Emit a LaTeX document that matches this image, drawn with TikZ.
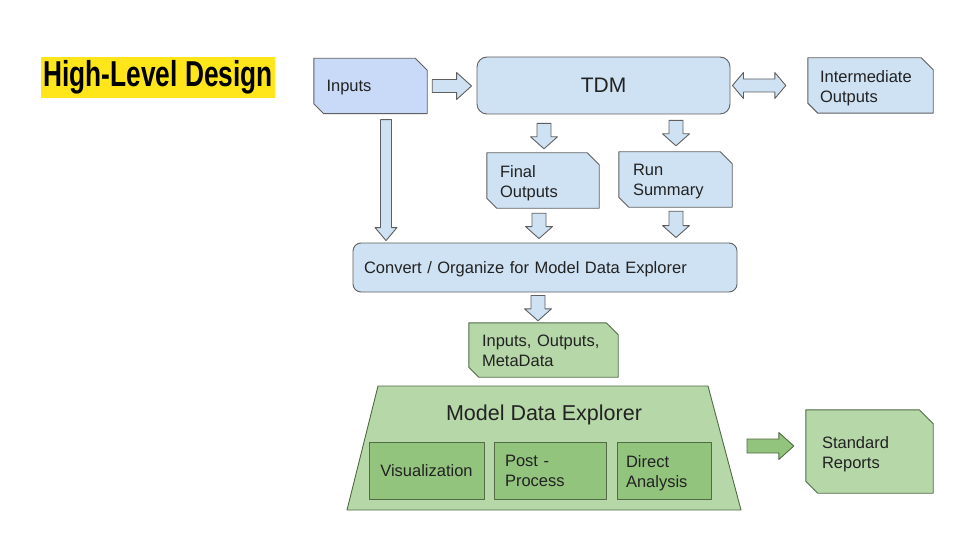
\documentclass[tikz,border=0pt]{standalone}
\usepackage{fontspec}
\setmainfont{Liberation Sans}
\newfontfamily\titlefont{Liberation Sans}[FakeStretch=0.73]
\usetikzlibrary{calc,backgrounds}
\definecolor{inblue}{HTML}{C9DAF8}
\definecolor{lblue}{HTML}{CFE2F3}
\definecolor{lgreen}{HTML}{B6D7A8}
\definecolor{mgreen}{HTML}{93C47D}
\definecolor{bedge}{HTML}{5F5F5F}
\definecolor{gedge}{HTML}{526B45}
\definecolor{ttlyellow}{HTML}{FFE61A}
\definecolor{txt}{HTML}{222222}
% snipped-corner outline around a named node: name, style, top-right cut, bottom-left cut
\newcommand\snipoutline[4]{\path[#2] (#1.north west) -- ([xshift=-#3pt]#1.north east) -- ([yshift=-#3pt]#1.north east) -- (#1.south east) -- ([xshift=#4pt]#1.south west) -- ([yshift=#4pt]#1.south west) -- cycle;}
% block arrow pointing right: style, from, to, shaft half, head half, head length
\newcommand\rightblock[6]{\path[#1] let \p1=(#2), \p2=(#3) in
  (\x1,\y1+#4pt) -- (\x2-#6pt,\y1+#4pt) -- (\x2-#6pt,\y1+#5pt) -- (\x2,\y1) -- (\x2-#6pt,\y1-#5pt) -- (\x2-#6pt,\y1-#4pt) -- (\x1,\y1-#4pt) -- cycle;}
% block arrow pointing down
\newcommand\downblock[6]{\path[#1] let \p1=(#2), \p2=(#3) in
  (\x1-#4pt,\y1) -- (\x1+#4pt,\y1) -- (\x1+#4pt,\y2+#6pt) -- (\x1+#5pt,\y2+#6pt) -- (\x1,\y2) -- (\x1-#5pt,\y2+#6pt) -- (\x1-#4pt,\y2+#6pt) -- cycle;}
% double block arrow (left-right)
\newcommand\doubleblock[6]{\path[#1] let \p1=(#2), \p2=(#3) in
  (\x1,\y1) -- (\x1+#6pt,\y1+#5pt) -- (\x1+#6pt,\y1+#4pt) -- (\x2-#6pt,\y1+#4pt) -- (\x2-#6pt,\y1+#5pt) -- (\x2,\y1) -- (\x2-#6pt,\y1-#5pt) -- (\x2-#6pt,\y1-#4pt) -- (\x1+#6pt,\y1-#4pt) -- (\x1+#6pt,\y1-#5pt) -- cycle;}
\tikzset{
  bluefill/.style={fill=lblue, draw=bedge, line width=0.9pt, line join=round},
  inputfill/.style={fill=inblue, draw=bedge, line width=0.9pt, line join=round},
  greenfill/.style={fill=lgreen, draw=gedge, line width=0.9pt, line join=round},
  darkgreenfill/.style={fill=mgreen, draw=gedge, line width=0.9pt, line join=round},
  textbox/.style={rectangle, align=left, inner ysep=0pt, text=txt, text depth=-0.5pt},
  textboxtwo/.style={rectangle, align=left, inner ysep=0pt, text=txt, text depth=18.5pt},
}
\begin{document}
\begin{tikzpicture}[x=1pt, y=-1pt, font=\fontsize{16.5}{20}\selectfont, text=txt]
\useasboundingbox (0,0) rectangle (960,540);

% title
\node[fill=ttlyellow, inner sep=0pt, minimum width=234pt, minimum height=41pt, anchor=north west, text=black] (title) at (41,57)
  {\titlefont\bfseries\fontsize{36}{36}\selectfont High-Level Design};

% boxes
\node[textbox, minimum width=113pt, minimum height=55pt, inner xsep=12.5pt, text width=88pt] (inputs) at (370.5,86) {Inputs};
\node[rectangle, minimum width=253pt, minimum height=57pt, rounded corners=10pt, bluefill, font=\fontsize{21}{24}\selectfont, text depth=0pt] (tdm) at (603.5,85.5) {TDM};
\node[textboxtwo, minimum width=125pt, minimum height=55pt, inner xsep=12pt, text width=101pt] (interm) at (870.5,85.5) {Intermediate\\Outputs};
\node[textboxtwo, minimum width=112pt, minimum height=55pt, inner xsep=13pt, text width=86pt] (final) at (543,180.5) {Final\\Outputs};
\node[textboxtwo, minimum width=113pt, minimum height=55pt, inner xsep=14pt, text width=85pt] (runsum) at (675.5,179.5) {Run\\Summary};
\node[textbox, minimum width=384pt, minimum height=49pt, inner xsep=11pt, text width=362pt, rounded corners=8pt, bluefill] (convert) at (545,267.5) {Convert / Organize for Model Data Explorer};
\node[textboxtwo, minimum width=149pt, minimum height=54pt, inner xsep=13pt, text width=123pt] (iom) at (543.5,350) {Inputs, Outputs,\\MetaData};

% model data explorer trapezoid
\path[greenfill] (378,386) coordinate (mdetl) -- (708,386) coordinate (mdetr) -- (741,510) coordinate (mdebr) -- (347,510) coordinate (mdebl) -- cycle;
\node[text=txt, font=\fontsize{21.5}{24}\selectfont] (mde) at (544,415) {Model Data Explorer};
\node[rectangle, darkgreenfill, minimum width=115pt, minimum height=57pt, inner sep=0pt, text depth=0pt] (vis) at (426.5,470.5) {Visualization};
\node[textboxtwo, darkgreenfill, minimum width=112pt, minimum height=57pt, inner xsep=11pt, text width=90pt] (post) at (550,470.5) {Post -\\Process};
\node[textboxtwo, darkgreenfill, minimum width=94pt, minimum height=57pt, inner xsep=9pt, text width=76pt] (direct) at (664,470.5) {Direct\\Analysis};
\node[textboxtwo, minimum width=127pt, minimum height=83pt, inner xsep=16pt, text width=95pt] (stdrep) at (869.5,451.5) {Standard\\Reports};
\coordinate (mderight) at (741,446);

% snipped outlines behind text
\begin{scope}[on background layer]
\fill[white] (0,0) rectangle (960,540);
\snipoutline{inputs}{inputfill}{12}{10}
\snipoutline{interm}{bluefill}{12}{10}
\snipoutline{final}{bluefill}{12}{10}
\snipoutline{runsum}{bluefill}{12}{10}
\snipoutline{iom}{greenfill}{12}{10}
\snipoutline{stdrep}{greenfill}{14}{12}
\end{scope}

% block arrows
\rightblock{bluefill}{$(inputs.east)+(5,0)$}{$(tdm.west)+(-5,0)$}{6.5}{13.5}{15}
\doubleblock{bluefill}{$(tdm.east)+(2,0)$}{$(interm.west)+(-22,0)$}{6.5}{13}{11}
\downblock{bluefill}{$(tdm.south -| final.north)+(1,9)$}{$(final.north)+(1,-4)$}{7}{13.5}{12}
\downblock{bluefill}{$(tdm.south -| runsum.north)+(0.5,6)$}{$(runsum.north)+(0.5,-6)$}{7}{13.5}{12}
\downblock{bluefill}{$(final.south)+(-4,5)$}{$(convert.north -| final.south)+(-4,-4)$}{7}{13.5}{12}
\downblock{bluefill}{$(runsum.south)+(0.5,4)$}{$(convert.north -| runsum.south)+(0.5,-5)$}{7}{13.5}{12}
\downblock{bluefill}{$(inputs.south)+(15.5,6)$}{$(convert.north -| inputs.south)+(15.5,-2)$}{5.5}{11}{13}
\downblock{bluefill}{$(convert.south)+(-7,3)$}{$(iom.north)+(-5.5,-2)$}{7}{13.5}{12}
\rightblock{darkgreenfill}{$(mderight)+(6,0)$}{$(stdrep.west)+(-12,-5.5)$}{7}{13.5}{15}
\end{tikzpicture}
\end{document}
